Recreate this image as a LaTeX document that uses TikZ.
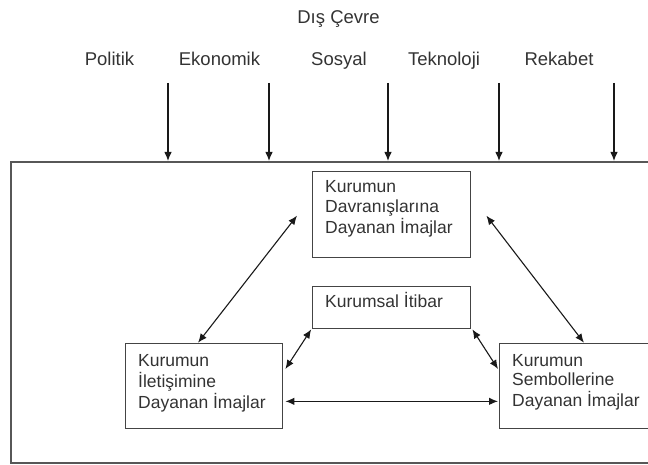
\documentclass[tikz,border=0pt]{standalone}
\usepackage{fontspec}
\setmainfont{Liberation Sans}
\usetikzlibrary{arrows.meta}

\definecolor{ink}{HTML}{333333}
\definecolor{frame}{HTML}{444444}

\tikzset{
  box/.style={draw=frame, line width=1.4pt, anchor=north west, inner sep=0pt},
  txt/.style={anchor=base west, inner sep=0pt, text=ink,
              font=\fontsize{17.5}{19.5}\selectfont},
  lbl/.style={anchor=base, inner sep=0pt, text=ink,
              font=\fontsize{18.5}{21}\selectfont},
  force/.style={draw=black!90, line width=1.1pt, -{Latex[length=9pt,width=7.5pt]}},
  link/.style={draw=black!90, line width=1.1pt,
               {Latex[length=9pt,width=7.5pt]}-{Latex[length=9pt,width=7.5pt]}}
}

\newcommand{\lines}[1]{\begin{tabular}[t]{@{}l@{}}#1\end{tabular}}

\begin{document}
\begin{tikzpicture}[x=1pt, y=-1pt]
  \useasboundingbox (0,0) rectangle (648,465);
  \clip (0,0) rectangle (648,465);

  % external environment
  \node[lbl] (env) at (338.5,24) {Dış Çevre};
  \node[lbl] (pol) at (109.5,66) {Politik};
  \node[lbl] (eko) at (219.5,66) {Ekonomik};
  \node[lbl] (sos) at (339,66) {Sosyal};
  \node[lbl] (tek) at (444,66) {Teknoloji};
  \node[lbl] (rek) at (559,66) {Rekabet};

  % organisation frame
  \node[box, line width=1.6pt, draw=frame!90, minimum width=660pt, minimum height=301pt]
    (org) at (10,161) {};

  % pressure arrows onto the frame
  \foreach \x/\n in {168/a1, 269/a2, 388/a3, 499/a4, 614/a5} {
    \coordinate (\n) at (\x,83);
    \draw[force] (\n) -- (\n |- org.north);
  }

  % image boxes
  \node[box, minimum width=158.3pt, minimum height=86pt] (beh) at (311.7,170.7) {};
  \node[txt] (behtxt) at (325,193) {\lines{Kurumun\\Davranışlarına\\Dayanan İmajlar}};

  \node[box, minimum width=158.3pt, minimum height=42.3pt] (rep) at (311.7,285.7) {};
  \node[txt] (reptxt) at (325,307.5) {\lines{Kurumsal İtibar}};

  \node[box, minimum width=156.7pt, minimum height=85.3pt] (com) at (125,342.7) {};
  \node[txt] (comtxt) at (138,366) {\lines{Kurumun\\İletişimine\\Dayanan İmajlar}};

  \node[box, minimum width=157.5pt, minimum height=85.3pt] (sym) at (498.5,342.7) {};
  \node[txt] (symtxt) at (512,366) {\lines{Kurumun\\Sembollerine\\Dayanan İmajlar}};

  % mutual relations
  \draw[link] ([shift={(-14.7pt,-1.3pt)}]beh.west) -- ([xshift=-6pt]com.north);
  \draw[link] ([shift={(15pt,-1.3pt)}]beh.east) -- ([xshift=6pt]sym.north);
  \draw[link] ([xshift=-0.5pt]rep.south west) -- ([shift={(2.3pt,-26.3pt)}]com.north east);
  \draw[link] ([xshift=1pt]rep.south east) -- ([shift={(-0.5pt,-26.3pt)}]sym.north west);
  \draw[link] ([shift={(2.3pt,-15.3pt)}]com.east) -- ([shift={(-0.5pt,-15.3pt)}]sym.west);
\end{tikzpicture}
\end{document}
